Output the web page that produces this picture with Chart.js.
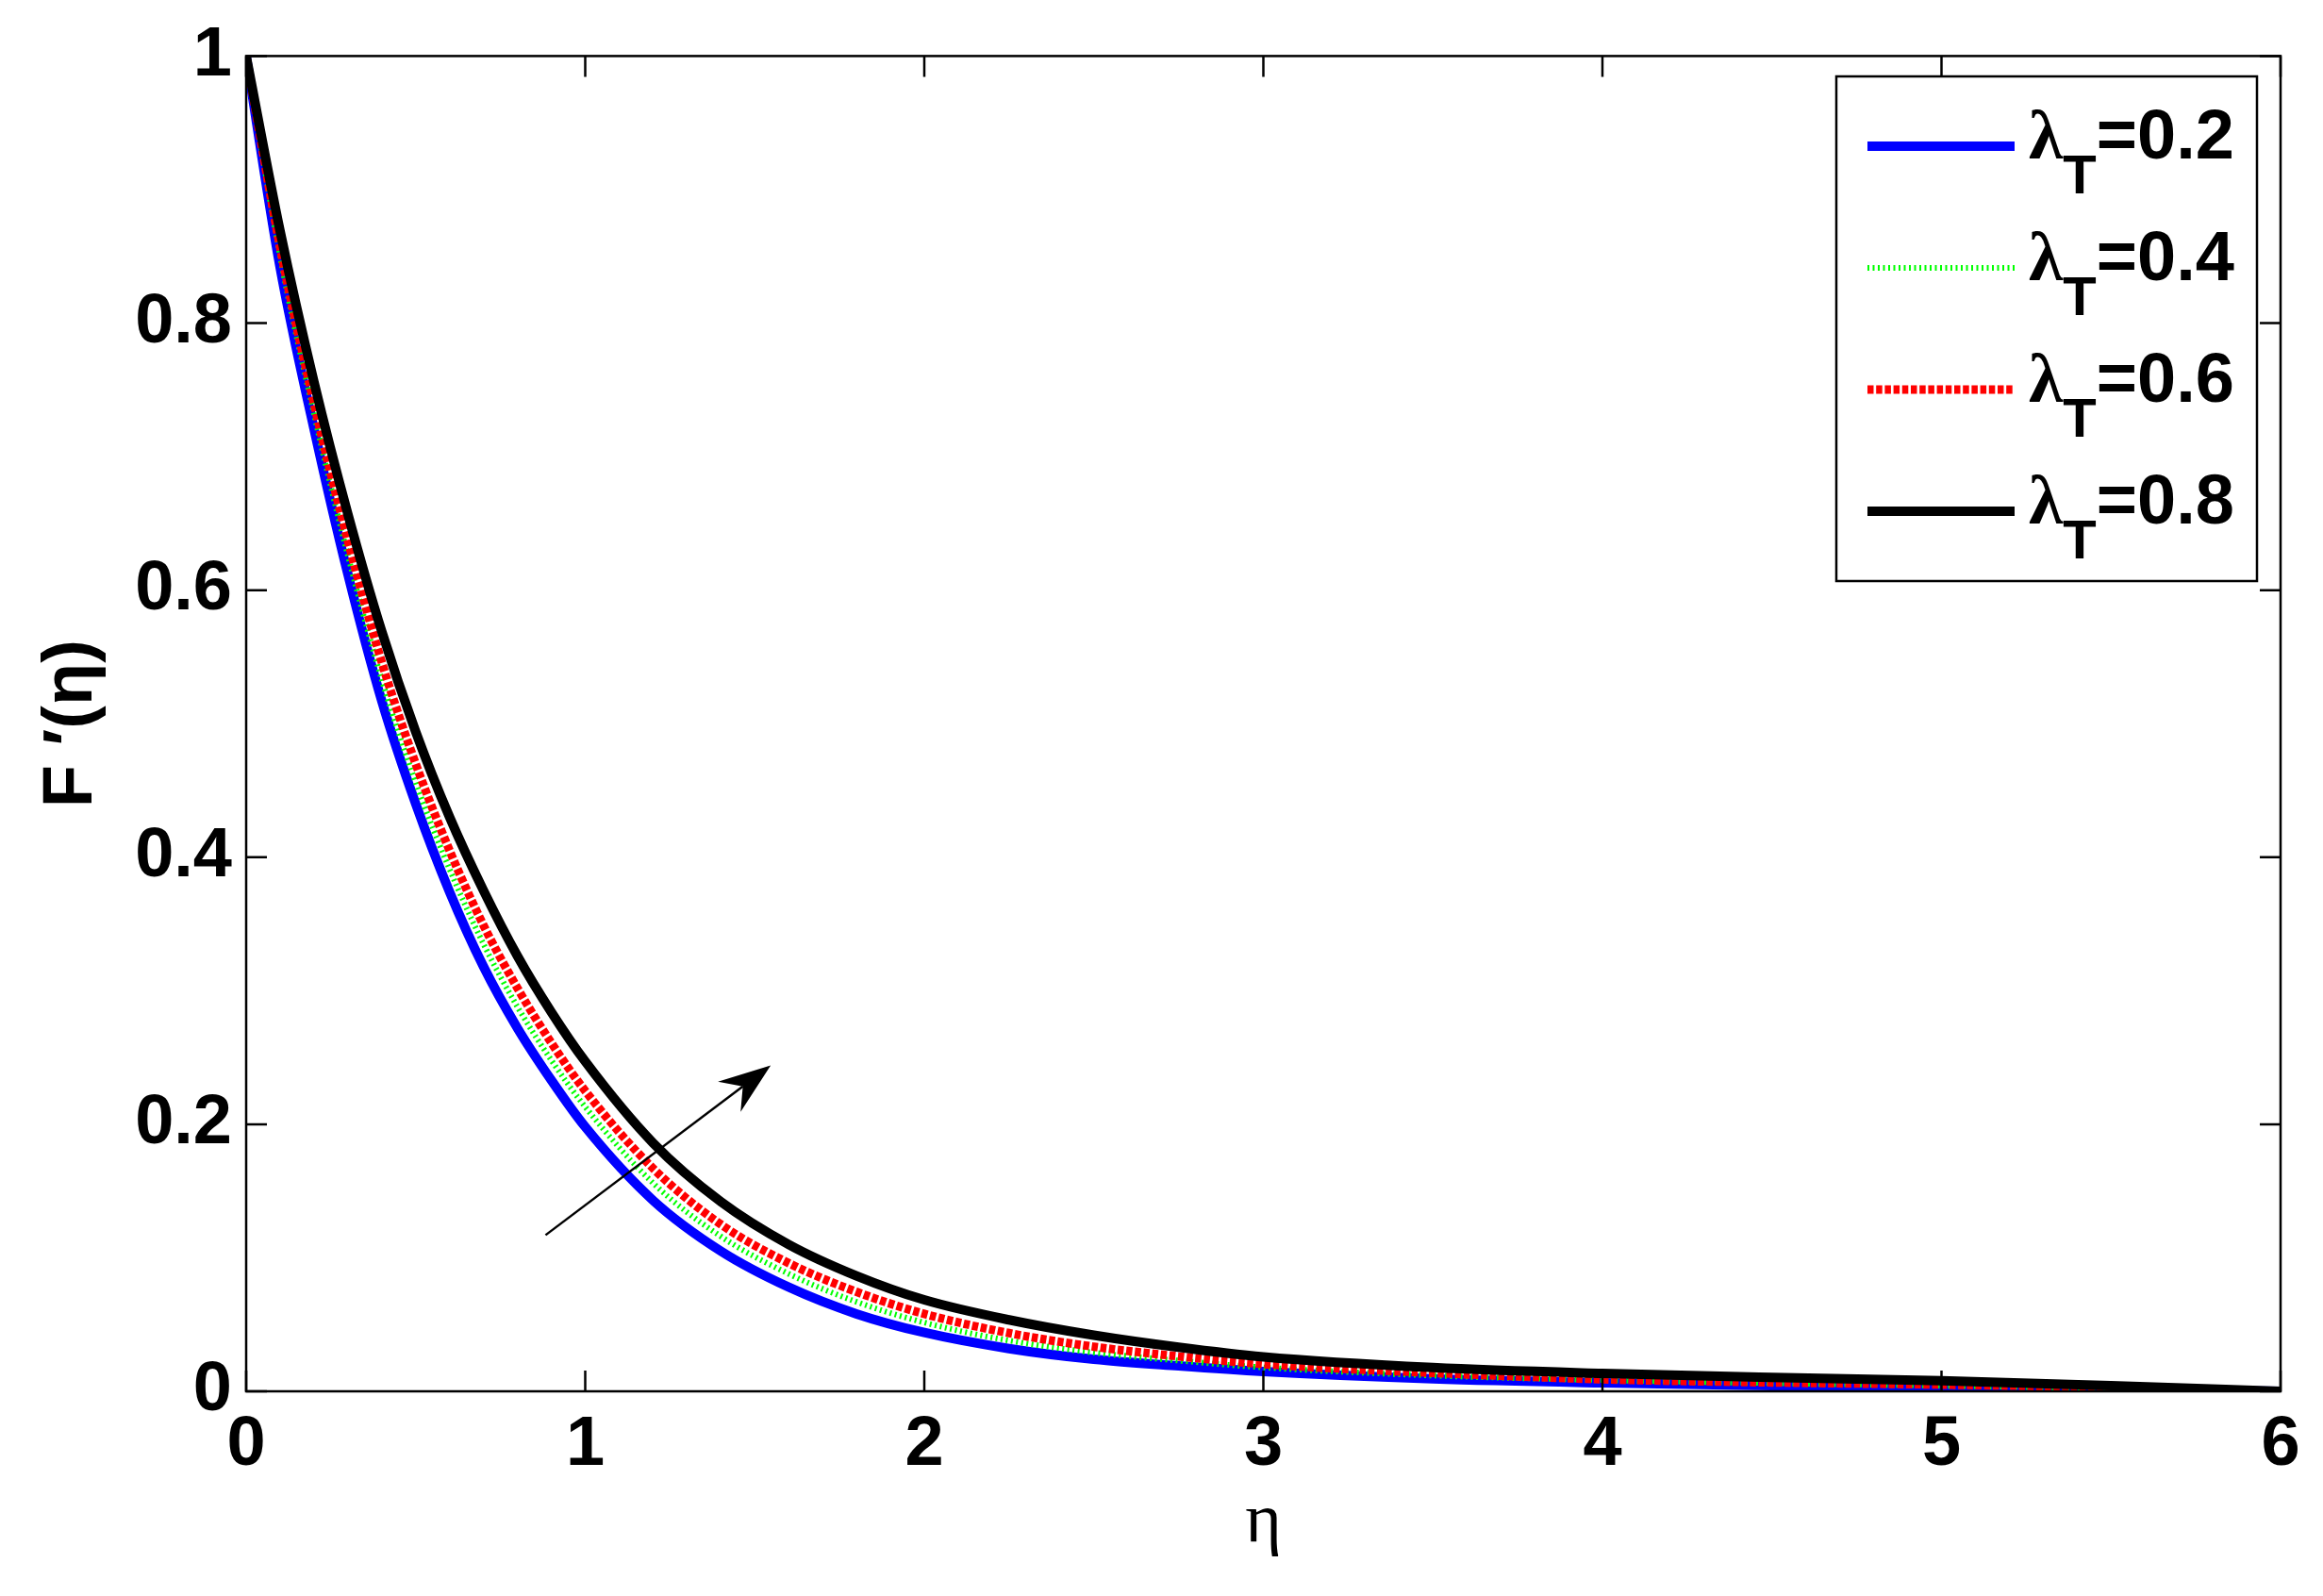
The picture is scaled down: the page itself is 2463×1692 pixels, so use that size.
<!DOCTYPE html>
<html>
<head>
<meta charset="utf-8">
<script src="https://cdn.jsdelivr.net/npm/chart.js@4.4.0/dist/chart.umd.min.js"></script>
<style>
  html, body { margin: 0; padding: 0; background: #fff; }
  #wrap { width: 2463px; height: 1692px; }
</style>
</head>
<body>
<div id="wrap"><canvas id="chart-fprime" width="2463" height="1692"></canvas></div>
<script>
// eta grid and F'(eta), one array per lambda_T
const etaValues = [0, 0.1, 0.2, 0.3, 0.4, 0.5, 0.6, 0.7, 0.8, 0.9, 1.0, 1.2, 1.4, 1.6, 1.8,
                   2.0, 2.25, 2.5, 2.75, 3.0, 3.5, 4.0, 4.5, 5.0, 5.5, 6.0];
const fLambda02 = [1.000, 0.842, 0.721, 0.612, 0.517, 0.440, 0.374, 0.318, 0.272, 0.233, 0.198,
                   0.143, 0.105, 0.078, 0.058, 0.044, 0.032, 0.024, 0.019, 0.0148, 0.0093,
                   0.0063, 0.0043, 0.0026, 0.0012, 0];
const fLambda04 = [1.000, 0.850, 0.732, 0.626, 0.533, 0.456, 0.391, 0.335, 0.288, 0.248, 0.213,
                   0.156, 0.116, 0.088, 0.067, 0.0515, 0.038, 0.029, 0.023, 0.0179, 0.0118,
                   0.0084, 0.0061, 0.0042, 0.0021, 0];
const fLambda06 = [1.000, 0.857, 0.740, 0.637, 0.546, 0.470, 0.405, 0.349, 0.302, 0.261, 0.225,
                   0.167, 0.125, 0.096, 0.0745, 0.058, 0.0436, 0.0334, 0.0262, 0.0204, 0.0138,
                   0.0090, 0.0066, 0.0050, 0.0029, 0];
const fLambda08 = [1.000, 0.869, 0.756, 0.657, 0.569, 0.494, 0.430, 0.375, 0.326, 0.284, 0.247,
                   0.186, 0.142, 0.110, 0.0865, 0.0685, 0.0535, 0.042, 0.033, 0.0258, 0.0178,
                   0.0134, 0.0104, 0.0080, 0.0042, 0];
const lambdaLabels = ['0.2', '0.4', '0.6', '0.8'];
const xTickLabels = ['0', '1', '2', '3', '4', '5', '6'];
const yTickLabels = ['0', '0.2', '0.4', '0.6', '0.8', '1'];
// arrow annotation (eta, F') tail -> head
const arrowTail = [0.883, 0.117];
const arrowHead = [1.547, 0.244];

const toPoints = ys => etaValues.map((x, i) => ({ x, y: ys[i] }));

const SANS = "'Liberation Sans', Arial, sans-serif";
const SERIF = "'Liberation Serif', 'Times New Roman', serif";

// box, inward ticks, arrow and the lambda_T legend (needs a subscript)
const matlabFrame = {
  id: 'matlabFrame',
  afterDatasetsDraw(chart, args, opts) {
    const { ctx, chartArea: a, scales: { x, y } } = chart;
    ctx.save();
    ctx.strokeStyle = '#000';
    ctx.fillStyle = '#000';
    ctx.lineWidth = 2.5;
    ctx.setLineDash([]);
    ctx.strokeRect(a.left, a.top, a.right - a.left, a.bottom - a.top);

    const len = opts.tickLen;
    ctx.beginPath();
    x.ticks.forEach(t => {
      const px = x.getPixelForValue(t.value);
      ctx.moveTo(px, a.bottom); ctx.lineTo(px, a.bottom - len);
      ctx.moveTo(px, a.top); ctx.lineTo(px, a.top + len);
    });
    y.ticks.forEach(t => {
      const py = y.getPixelForValue(t.value);
      ctx.moveTo(a.left, py); ctx.lineTo(a.left + len, py);
      ctx.moveTo(a.right, py); ctx.lineTo(a.right - len, py);
    });
    ctx.stroke();

    // arrow
    const tx = x.getPixelForValue(arrowTail[0]), ty = y.getPixelForValue(arrowTail[1]);
    const hx = x.getPixelForValue(arrowHead[0]), hy = y.getPixelForValue(arrowHead[1]);
    const ang = Math.atan2(hy - ty, hx - tx);
    const ux = Math.cos(ang), uy = Math.sin(ang), nx = -uy, ny = ux;
    const hl = 55, hw = 20, notch = 37;
    ctx.lineWidth = 2.5;
    ctx.beginPath();
    ctx.moveTo(tx, ty);
    ctx.lineTo(hx - ux * notch, hy - uy * notch);
    ctx.stroke();
    ctx.beginPath();
    ctx.moveTo(hx, hy);
    ctx.lineTo(hx - ux * hl + nx * hw, hy - uy * hl + ny * hw);
    ctx.lineTo(hx - ux * notch, hy - uy * notch);
    ctx.lineTo(hx - ux * hl - nx * hw, hy - uy * hl - ny * hw);
    ctx.closePath();
    ctx.fill();

    // legend
    const lg = opts.legend;
    ctx.fillStyle = '#fff';
    ctx.fillRect(lg.left, lg.top, lg.right - lg.left, lg.bottom - lg.top);
    ctx.strokeStyle = '#000';
    ctx.lineWidth = 2.5;
    ctx.strokeRect(lg.left, lg.top, lg.right - lg.left, lg.bottom - lg.top);

    chart.data.datasets.forEach((ds, i) => {
      const cy = lg.firstRow + i * lg.rowStep;
      ctx.strokeStyle = ds.borderColor;
      ctx.lineWidth = ds.borderWidth;
      ctx.setLineDash(ds.borderDash || []);
      ctx.beginPath();
      ctx.moveTo(lg.lineX0, cy);
      ctx.lineTo(lg.lineX1, cy);
      ctx.stroke();
      ctx.setLineDash([]);

      ctx.fillStyle = '#000';
      ctx.textAlign = 'left';
      ctx.textBaseline = 'alphabetic';
      let px = lg.textX;
      ctx.font = 'bold 74px ' + SERIF;
      ctx.fillText('λ', px, cy + 13);
      px += ctx.measureText('λ').width;
      ctx.font = 'bold 58px ' + SANS;
      ctx.fillText('T', px, cy + 50);
      px += ctx.measureText('T').width;
      ctx.font = 'bold 74px ' + SANS;
      ctx.fillText('=' + lambdaLabels[i], px, cy + 13);
    });
    ctx.restore();
  }
};

new Chart(document.getElementById('chart-fprime'), {
  type: 'line',
  data: {
    datasets: [
      {
        label: 'λT=' + lambdaLabels[0],
        data: toPoints(fLambda02),
        borderColor: '#0000ff',
        borderWidth: 10,
        order: 4
      },
      {
        label: 'λT=' + lambdaLabels[1],
        data: toPoints(fLambda04),
        borderColor: '#00ff00',
        borderWidth: 6,
        borderDash: [2, 3.5],
        order: 3
      },
      {
        label: 'λT=' + lambdaLabels[2],
        data: toPoints(fLambda06),
        borderColor: '#ff0000',
        borderWidth: 9,
        borderDash: [6.5, 2.7],
        order: 2
      },
      {
        label: 'λT=' + lambdaLabels[3],
        data: toPoints(fLambda08),
        borderColor: '#000000',
        borderWidth: 10,
        order: 1
      }
    ]
  },
  options: {
    responsive: false,
    devicePixelRatio: 1,
    animation: false,
    layout: { padding: { top: 54, right: 45, left: 0, bottom: 0 } },
    elements: {
      point: { radius: 0 },
      line: { cubicInterpolationMode: 'monotone', fill: false, borderCapStyle: 'butt' }
    },
    plugins: {
      legend: { display: false },
      tooltip: { enabled: false },
      matlabFrame: {
        tickLen: 22,
        legend: { left: 1947, top: 81, right: 2393, bottom: 616,
                  firstRow: 155, rowStep: 129, lineX0: 1980, lineX1: 2136, textX: 2151 }
      }
    },
    scales: {
      x: {
        type: 'linear',
        min: 0,
        max: 6,
        grid: { display: false, drawTicks: false },
        border: { display: false },
        ticks: {
          stepSize: 1,
          padding: 13,
          color: '#000',
          font: { family: SANS, size: 74, weight: 'bold', lineHeight: 1.2 },
          callback: (v, i) => xTickLabels[i]
        },
        title: {
          display: true,
          text: 'η',
          color: '#000',
          font: { family: SERIF, size: 74, lineHeight: 1.2 },
          padding: { top: 0, bottom: 33 }
        },
        afterFit: s => { s.height = 217; }
      },
      y: {
        type: 'linear',
        min: 0,
        max: 1,
        grid: { display: false, drawTicks: false },
        border: { display: false },
        ticks: {
          stepSize: 0.2,
          padding: 15,
          color: '#000',
          font: { family: SANS, size: 74, weight: 'bold', lineHeight: 1.2 },
          callback: (v, i) => yTickLabels[i]
        },
        title: {
          display: true,
          text: 'F ′(η)',
          color: '#000',
          font: { family: SANS, size: 74, weight: 'bold', lineHeight: 1.2 },
          padding: { top: 32, bottom: 0 }
        },
        afterFit: s => { s.width = 261; }
      }
    }
  },
  plugins: [matlabFrame]
});
</script>
</body>
</html>
